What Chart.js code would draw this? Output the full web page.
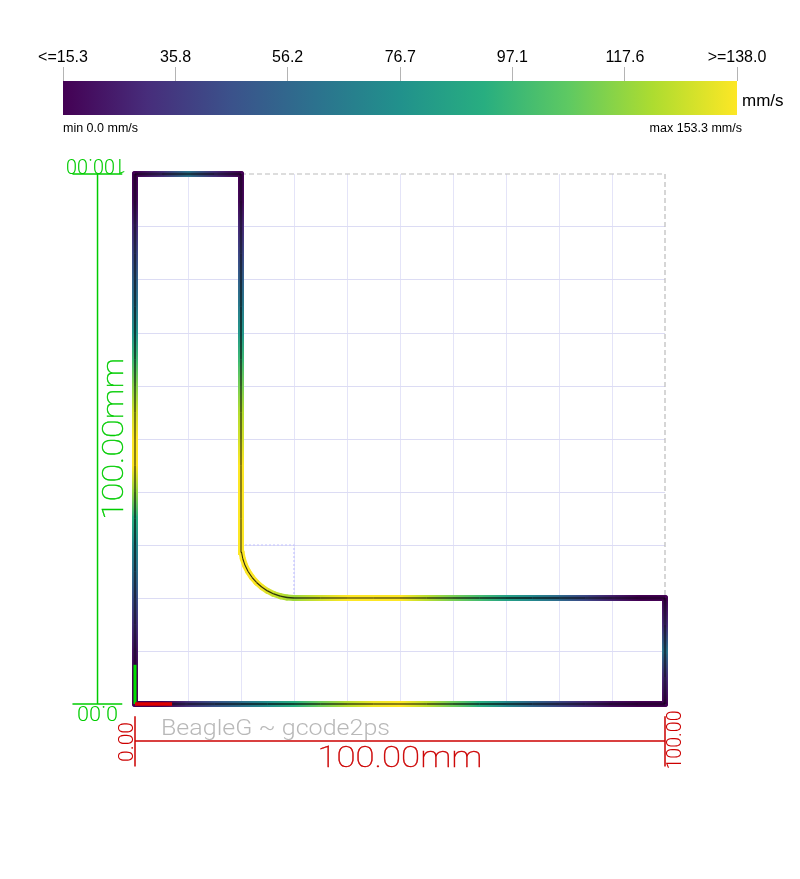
<!DOCTYPE html>
<html>
<head>
<meta charset="utf-8">
<title>BeagleG gcode2ps</title>
<script src="https://cdn.jsdelivr.net/npm/chart.js@4/dist/chart.umd.js"></script>
<style>
  html, body { margin: 0; padding: 0; background: #fff; }
  canvas { position: absolute; left: 0; }
  #barChart { top: 0; }
  #pathChart { top: 135px; }
</style>
</head>
<body>
<canvas id="barChart" width="800" height="135"></canvas>
<canvas id="pathChart" width="800" height="744"></canvas>
<script>
// colour scale
const colorTicks = [15.3, 35.8, 56.2, 76.7, 97.1, 117.6, 138.0];
const colorTickLabels = ['<=15.3', '35.8', '56.2', '76.7', '97.1', '117.6', '>=138.0'];
const viridis = ['#440154', '#472d7b', '#3b528b', '#2c728e', '#21918c', '#28ae80', '#5ec962', '#addc30', '#fde725'];

// toolpath in mm, with the speed in mm/s read at each point
const pathX = [
  0, 5, 10, 15, 20, 25, 30, 35, 40, 45, 50, 55, 60, 65, 70, 75, 80, 85, 90, 95, 100,
  100, 100, 100, 100,
  95, 90, 85, 80, 75, 70, 65, 60, 55, 50, 45, 40, 35, 30,
  28.69, 27.41, 26.17, 25, 23.91, 22.93, 22.07, 21.34, 20.76, 20.34, 20.09, 20,
  20, 20, 20, 20, 20, 20, 20, 20, 20, 20, 20, 20, 20, 20,
  15, 10, 5, 0,
  0, 0, 0, 0, 0, 0, 0, 0, 0, 0, 0, 0, 0, 0, 0, 0, 0, 0, 0, 0
];
const pathY = [
  0, 0, 0, 0, 0, 0, 0, 0, 0, 0, 0, 0, 0, 0, 0, 0, 0, 0, 0, 0, 0,
  5, 10, 15, 20,
  20, 20, 20, 20, 20, 20, 20, 20, 20, 20, 20, 20, 20, 20,
  20.09, 20.34, 20.76, 21.34, 22.07, 22.93, 23.91, 25, 26.17, 27.41, 28.69, 30,
  35, 40, 45, 50, 55, 60, 65, 70, 75, 80, 85, 90, 95, 100,
  100, 100, 100, 100,
  95, 90, 85, 80, 75, 70, 65, 60, 55, 50, 45, 40, 35, 30, 25, 20, 15, 10, 5, 0
];
const pathSpeed = [
  0, 15, 33, 47, 60, 75, 92, 110, 124, 135, 150, 126, 110, 92, 72, 55, 42, 30, 20, 10, 0,
  30, 62, 30, 0,
  12, 26, 42, 58, 72, 85, 100, 112, 125, 140, 148, 148, 130, 120,
  122, 125, 128, 132, 136, 140, 142, 145, 146, 148, 149, 150,
  150, 148, 142, 130, 124, 112, 98, 80, 66, 54, 42, 30, 18, 0,
  32, 62, 32, 0,
  18, 30, 42, 54, 64, 78, 98, 115, 130, 150, 138, 118, 92, 72, 60, 45, 33, 22, 12, 0
];

// helper outlines in mm
const boundsX = [20, 100, 100];
const boundsY = [100, 100, 20];
const arcCenterX = [20, 30, 30];
const arcCenterY = [30, 30, 20];

const speedMin = colorTicks[0];
const speedMax = colorTicks[colorTicks.length - 1];

function mixColor(a, b, t) {
    const out = [1, 3, 5].map(function(i) {
        const p = parseInt(a.substr(i, 2), 16);
        const q = parseInt(b.substr(i, 2), 16);
        return Math.round(p + (q - p) * t);
    });
    return 'rgb(' + out.join(',') + ')';
}

function speedColor(speed) {
    const t = Math.max(0, Math.min(1, (speed - speedMin) / (speedMax - speedMin))) * (viridis.length - 1);
    const i = Math.min(Math.floor(t), viridis.length - 2);
    return mixColor(viridis[i], viridis[i + 1], t - i);
}

function points(xs, ys) {
    return xs.map(function(x, i) { return { x: x, y: ys[i] }; });
}

function lineSet(xs, ys, color, width, dash) {
    return {
        data: points(xs, ys),
        borderColor: color,
        borderWidth: width,
        borderDash: dash || [],
        showLine: true,
        pointRadius: 0,
        clip: false
    };
}

// fitWidth stretches the text sideways so it spans the width seen on the reference
function putText(ctx, text, x, y, font, color, align, angle, fitWidth, outline) {
    ctx.save();
    ctx.translate(x, y);
    ctx.rotate((angle || 0) * Math.PI / 180);
    ctx.font = font;
    ctx.fillStyle = color;
    ctx.strokeStyle = color;
    ctx.textAlign = align || 'left';
    ctx.textBaseline = 'alphabetic';
    if (fitWidth) {
        ctx.scale(fitWidth / ctx.measureText(text).width, 1);
    }
    ctx.fillText(text, 0, 0);
    if (outline) {
        ctx.lineWidth = outline;
        ctx.strokeText(text, 0, 0);
    }
    ctx.restore();
}

// Barre de couleurs
new Chart(document.getElementById('barChart'), {
    type: 'bar',
    data: {
        labels: ['speed'],
        datasets: [{
            data: [[speedMin, speedMax]],
            barPercentage: 1,
            categoryPercentage: 1,
            backgroundColor: function(c) {
                const area = c.chart.chartArea;
                if (!area) return viridis[0];
                const g = c.chart.ctx.createLinearGradient(area.left, 0, area.right, 0);
                viridis.forEach(function(col, i) { g.addColorStop(i / (viridis.length - 1), col); });
                return g;
            }
        }]
    },
    options: {
        indexAxis: 'y',
        responsive: false,
        animation: false,
        layout: { padding: { left: 63, right: 63, top: 0, bottom: 20 } },
        plugins: { legend: { display: false }, tooltip: { enabled: false } },
        scales: {
            y: { display: false },
            x: {
                position: 'top',
                min: speedMin,
                max: speedMax,
                afterBuildTicks: function(s) { s.ticks = colorTicks.map(function(v) { return { value: v }; }); },
                afterFit: function(s) { s.height = 81; },
                border: { display: false },
                grid: { drawOnChartArea: false, color: '#b4b4b4', tickLength: 14 },
                ticks: {
                    autoSkip: false,
                    maxRotation: 0,
                    padding: 0,
                    color: '#000',
                    font: { family: "'Liberation Sans', sans-serif", size: 16 },
                    callback: function(v, i) { return colorTickLabels[i]; }
                }
            }
        }
    },
    plugins: [{
        id: 'barText',
        afterDraw: function(chart) {
            const ctx = chart.ctx, a = chart.chartArea;
            const font = "12.5px 'Liberation Sans', sans-serif";
            putText(ctx, 'min 0.0 mm/s', a.left, a.bottom + 17, font, '#000');
            putText(ctx, 'max 153.3 mm/s', a.right + 5, a.bottom + 17, font, '#000', 'right');
            putText(ctx, 'mm/s', a.right + 5, a.bottom - 9, "17px 'Liberation Sans', sans-serif", '#000');
        }
    }]
});

// Parcours d'outil
function segmentSpeed(s) {
    return (pathSpeed[s.p0DataIndex] + pathSpeed[s.p1DataIndex]) / 2;
}
const pathSegment = {
    borderColor: function(s) {
        const g = pathCtx.createLinearGradient(s.p0.x, s.p0.y, s.p1.x, s.p1.y);
        g.addColorStop(0, speedColor(pathSpeed[s.p0DataIndex]));
        g.addColorStop(1, speedColor(pathSpeed[s.p1DataIndex]));
        return g;
    }
};
// the dark core is wide and faint when slow, thin and black when fast
const coreSegment = {
    borderColor: function(s) {
        return 'rgba(0,0,0,' + (0.35 + 0.5 * segmentSpeed(s) / 150).toFixed(2) + ')';
    },
    borderWidth: function(s) {
        return 1 + 2 * Math.max(0, 1 - segmentSpeed(s) / 150);
    }
};

const redColor = '#cc0000';
const greenColor = '#00cc00';
const pathCtx = document.getElementById('pathChart').getContext('2d');

const pathCore = lineSet(pathX, pathY, 'rgba(0,0,0,0.6)', 2);
pathCore.segment = coreSegment;
const pathLine = lineSet(pathX, pathY, viridis[0], 6);
pathLine.segment = pathSegment;
pathLine.borderCapStyle = 'round';

new Chart(pathCtx, {
    type: 'scatter',
    data: {
        datasets: [
            lineSet([0, 7], [0, 0], '#e00000', 3.5),
            lineSet([0, 0], [0, 7.4], '#00dd00', 3),
            pathCore,
            pathLine,
            lineSet(arcCenterX, arcCenterY, '#c4c4ff', 1.2, [2, 2]),
            lineSet(boundsX, boundsY, '#bbbbbb', 1.2, [5, 3]),
            // dimension lines
            lineSet([0, 100], [-7, -7], redColor, 1.5),
            lineSet([0, 0], [-2.3, -11.8], redColor, 1.5),
            lineSet([100, 100], [-2.3, -11.8], redColor, 1.5),
            lineSet([-7.07, -7.07], [0, 100], greenColor, 1.5),
            lineSet([-11.8, -2.4], [0, 0], greenColor, 1.5),
            lineSet([-11.8, -2.4], [100, 100], greenColor, 1.5)
        ]
    },
    options: {
        responsive: false,
        animation: false,
        layout: { padding: { left: 135, right: 135, top: 39, bottom: 175 } },
        plugins: { legend: { display: false }, tooltip: { enabled: false } },
        scales: {
            x: {
                type: 'linear', min: 0, max: 100,
                border: { display: false },
                grid: { drawTicks: false, color: function(c) { return c.tick.value === 100 ? 'rgba(0,0,0,0)' : '#e4e4f8'; } },
                ticks: { display: false, stepSize: 10 }
            },
            y: {
                type: 'linear', min: 0, max: 100,
                border: { display: false },
                grid: { drawTicks: false, color: function(c) { return c.tick.value === 100 ? 'rgba(0,0,0,0)' : '#dcdcf4'; } },
                ticks: { display: false, stepSize: 10 }
            }
        }
    },
    plugins: [{
        id: 'dimensionText',
        afterDraw: function(chart) {
            const ctx = chart.ctx, sx = chart.scales.x, sy = chart.scales.y;
            const big = "100 30px Roboto, 'DejaVu Sans', sans-serif";
            const small = "300 20px Roboto, 'DejaVu Sans', sans-serif";
            const y0 = sy.getPixelForValue(0), y100 = sy.getPixelForValue(100);
            const x0 = sx.getPixelForValue(0), x100 = sx.getPixelForValue(100);
            putText(ctx, '100.00mm', (x0 + x100) / 2, y0 + 63, big, redColor, 'center', 0, 165, 0.4);
            putText(ctx, '0.00', x0 - 2, y0 + 38, small, redColor, 'center', -90, 40);
            putText(ctx, '100.00', x100 + 16, y0 + 36, small, redColor, 'center', -90, 59);
            putText(ctx, '100.00mm', x0 - 12, (y0 + y100) / 2, big, greenColor, 'center', -90, 162, 0.4);
            putText(ctx, '100.00', x0 - 39, y100 - 15, small, greenColor, 'center', 180, 60);
            putText(ctx, '0.00', x0 - 37.5, y0 + 2, small, greenColor, 'center', 180, 41);
            putText(ctx, 'BeagleG ~ gcode2ps', x0 + 26, y0 + 31, "300 22.5px Roboto, 'DejaVu Sans', sans-serif", '#b8b8b8', 'left', 0, 229);
        }
    }]
});
</script>
</body>
</html>
